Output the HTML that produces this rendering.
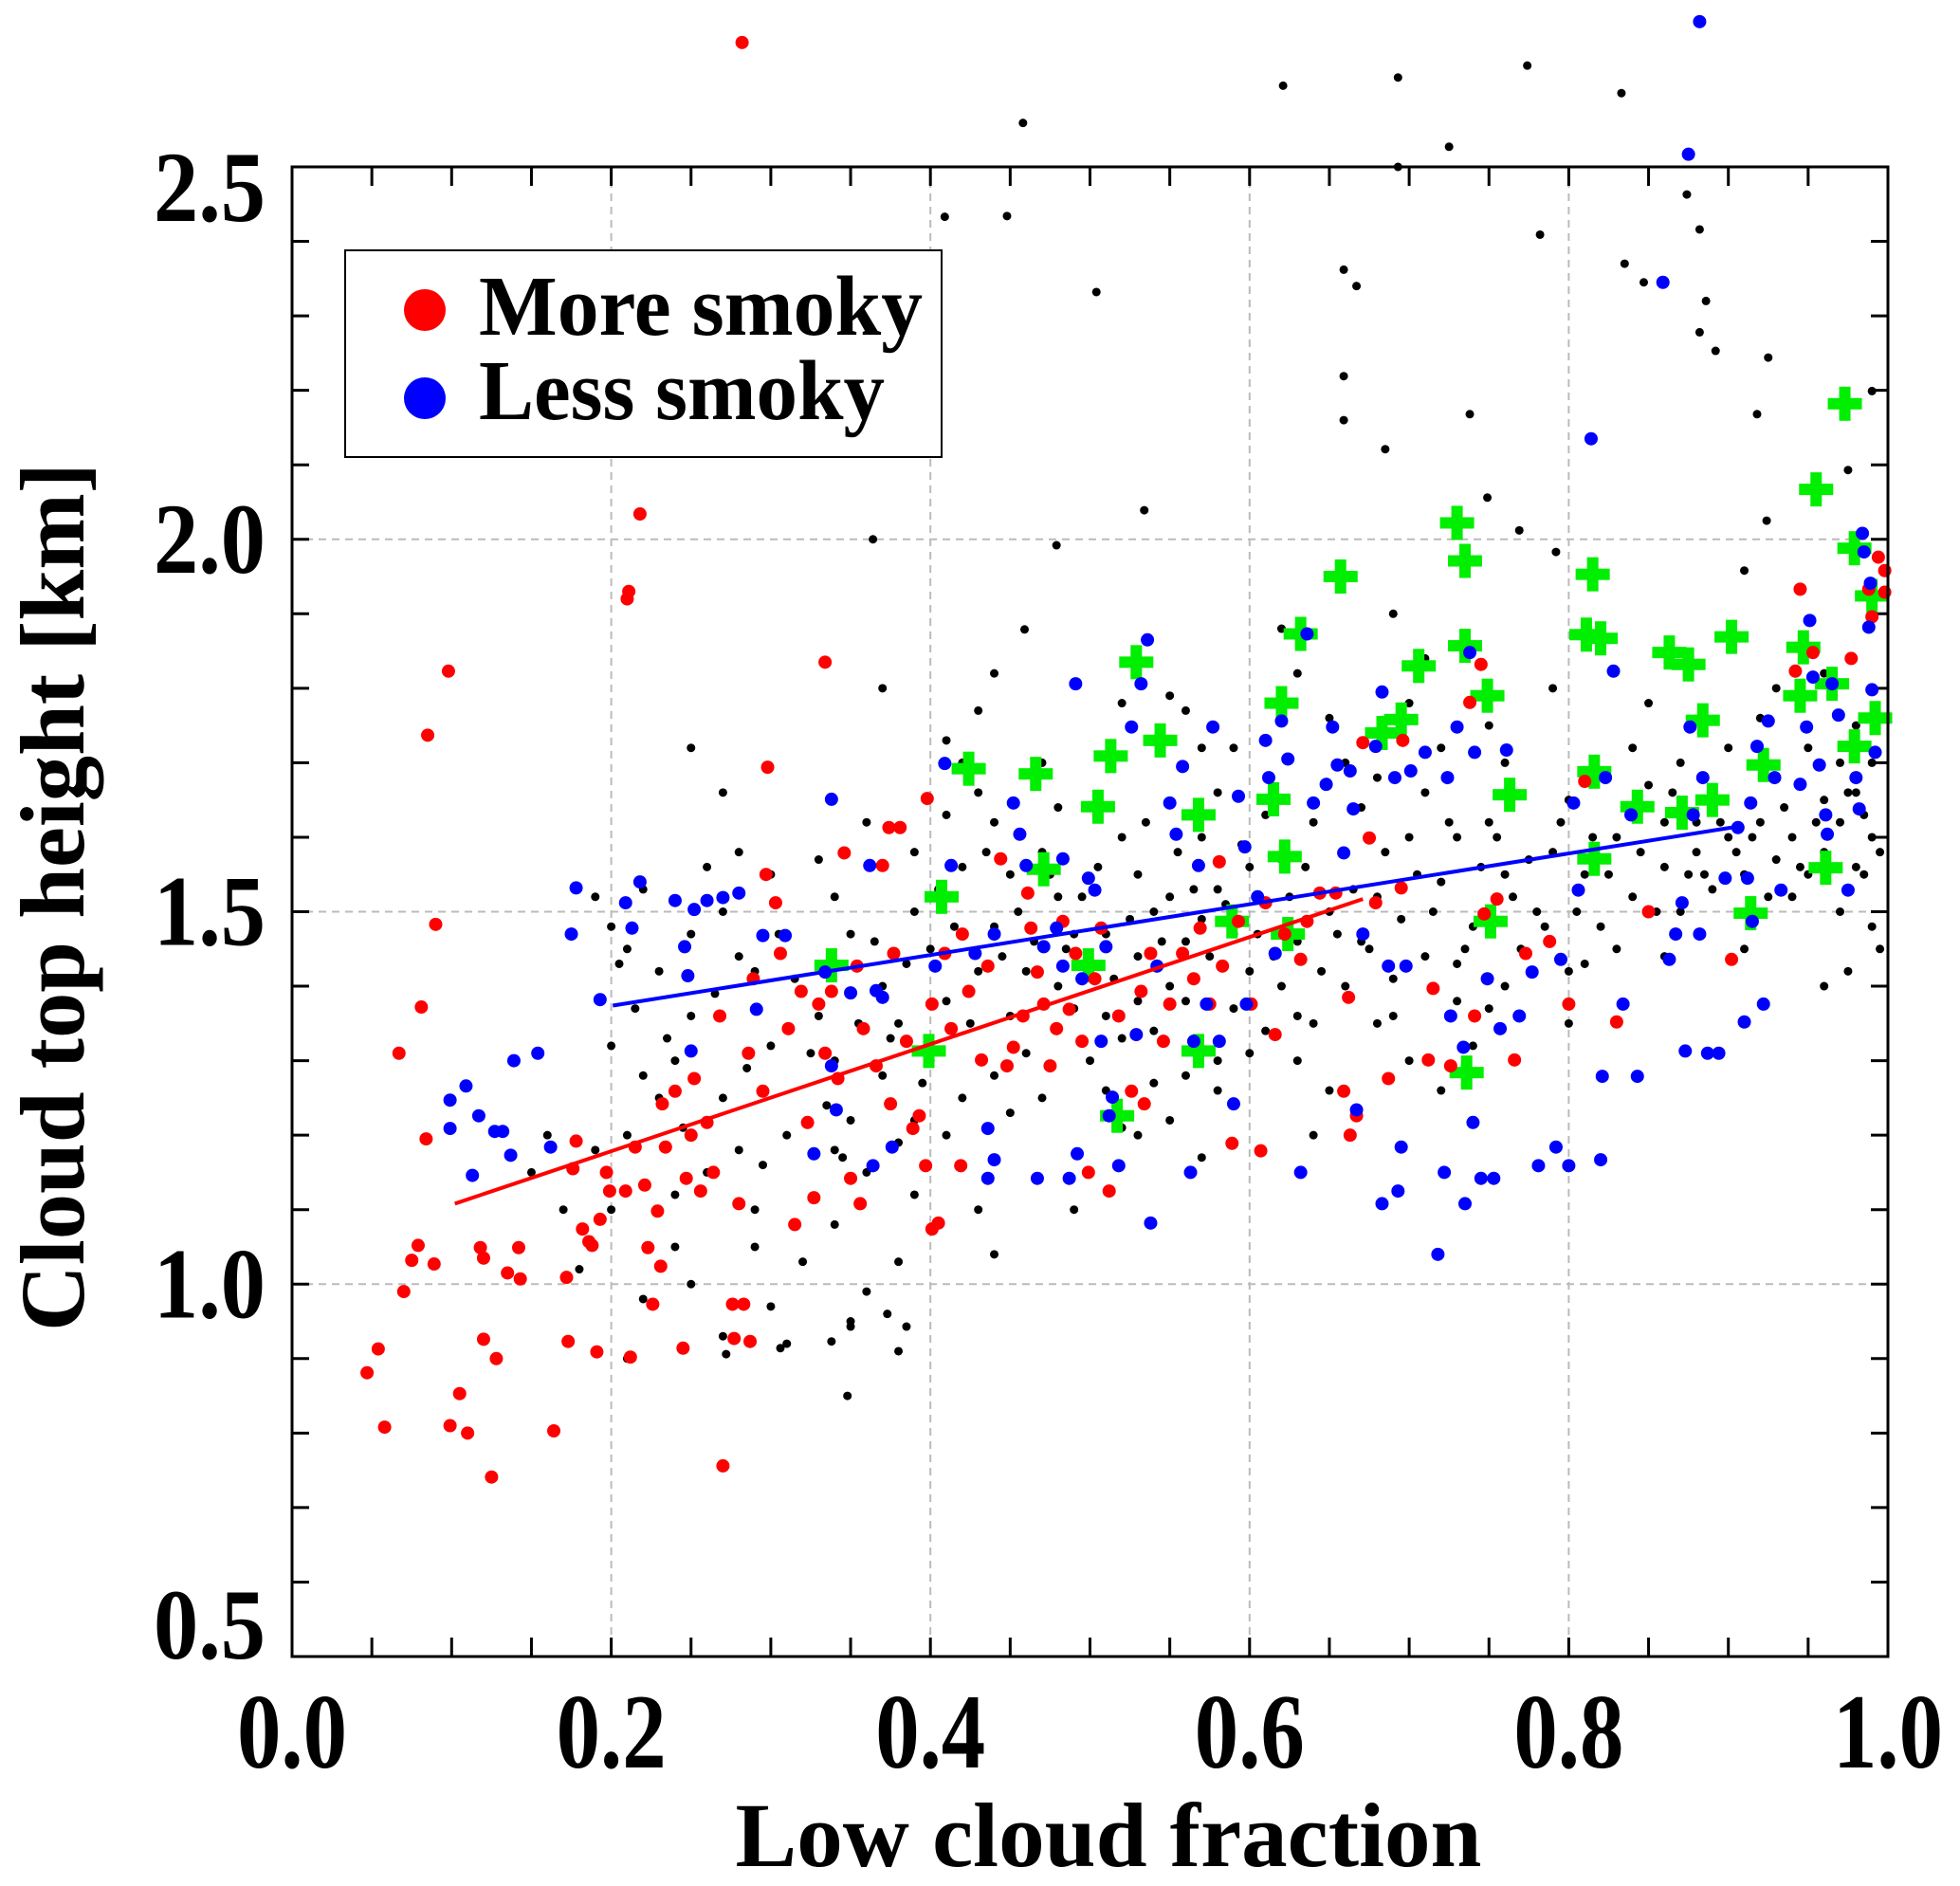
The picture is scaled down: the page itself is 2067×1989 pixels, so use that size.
<!DOCTYPE html>
<html><head><meta charset="utf-8"><style>
html,body{margin:0;padding:0;background:#fff;}
svg{display:block;}
text{font-family:"Liberation Serif",serif;font-weight:bold;fill:#000;}
</style></head><body>
<svg id="chart" width="2067" height="1989" viewBox="0 0 2067 1989" xmlns="http://www.w3.org/2000/svg"></svg>
<script>
const xTicks=[0.0,0.2,0.4,0.6,0.8,1.0];
const xTickLabels=["0.0","0.2","0.4","0.6","0.8","1.0"];
const yTicks=[0.5,1.0,1.5,2.0,2.5];
const yTickLabels=["0.5","1.0","1.5","2.0","2.5"];
const redLine=[[0.102,1.108],[0.671,1.517]];
const blueLine=[[0.201,1.374],[0.902,1.613]];
const redPts=[[0.282,2.667],[0.203,2.145],[0.218,2.034],[0.210,1.92],[0.211,1.93],[0.098,1.823],[0.085,1.737],[0.090,1.483],[0.081,1.372],[0.067,1.31],[0.084,1.195],[0.334,1.835],[0.298,1.694],[0.398,1.652],[0.047,0.881],[0.054,0.913],[0.058,0.808],[0.070,0.99],[0.075,1.032],[0.079,1.052],[0.089,1.027],[0.099,0.81],[0.105,0.853],[0.110,0.80],[0.125,0.741],[0.118,1.049],[0.120,1.035],[0.120,0.926],[0.128,0.90],[0.135,1.015],[0.142,1.049],[0.143,1.007],[0.164,0.803],[0.173,0.923],[0.172,1.009],[0.178,1.192],[0.176,1.155],[0.182,1.074],[0.186,1.057],[0.188,1.052],[0.191,0.909],[0.193,1.087],[0.197,1.15],[0.199,1.125],[0.209,1.125],[0.212,0.902],[0.215,1.184],[0.221,1.133],[0.223,1.049],[0.226,0.973],[0.231,1.024],[0.229,1.098],[0.232,1.242],[0.234,1.184],[0.240,1.259],[0.245,0.914],[0.247,1.142],[0.250,1.2],[0.252,1.276],[0.256,1.125],[0.260,1.217],[0.264,1.15],[0.268,1.36],[0.270,0.756],[0.276,0.973],[0.277,0.927],[0.280,1.108],[0.283,0.973],[0.287,0.923],[0.286,1.31],[0.289,1.41],[0.295,1.259],[0.297,1.55],[0.303,1.512],[0.306,1.444],[0.311,1.343],[0.315,1.08],[0.319,1.393],[0.323,1.217],[0.327,1.116],[0.330,1.376],[0.334,1.31],[0.338,1.393],[0.342,1.276],[0.346,1.579],[0.350,1.142],[0.354,1.427],[0.356,1.108],[0.358,1.343],[0.366,1.293],[0.370,1.562],[0.374,1.613],[0.381,1.613],[0.375,1.242],[0.377,1.444],[0.385,1.326],[0.389,1.209],[0.393,1.226],[0.397,1.159],[0.401,1.074],[0.405,1.082],[0.401,1.376],[0.409,1.444],[0.413,1.343],[0.419,1.159],[0.420,1.47],[0.424,1.393],[0.432,1.301],[0.436,1.427],[0.444,1.571],[0.448,1.293],[0.452,1.318],[0.458,1.36],[0.461,1.525],[0.463,1.478],[0.467,1.419],[0.471,1.376],[0.475,1.293],[0.479,1.343],[0.483,1.487],[0.487,1.369],[0.491,1.444],[0.495,1.326],[0.499,1.15],[0.503,1.41],[0.507,1.478],[0.512,1.125],[0.518,1.36],[0.526,1.259],[0.532,1.393],[0.534,1.242],[0.538,1.444],[0.546,1.326],[0.550,1.376],[0.558,1.444],[0.565,1.41],[0.569,1.478],[0.575,1.376],[0.581,1.567],[0.583,1.427],[0.589,1.189],[0.593,1.487],[0.601,1.376],[0.607,1.179],[0.610,1.512],[0.616,1.335],[0.622,1.47],[0.632,1.436],[0.636,1.487],[0.644,1.525],[0.654,1.525],[0.659,1.259],[0.662,1.385],[0.663,1.2],[0.667,1.226],[0.671,1.727],[0.675,1.599],[0.679,1.512],[0.687,1.276],[0.695,1.532],[0.696,1.73],[0.712,1.301],[0.715,1.397],[0.726,1.293],[0.738,1.781],[0.741,1.36],[0.745,1.832],[0.747,1.497],[0.755,1.517],[0.766,1.301],[0.773,1.444],[0.788,1.46],[0.800,1.376],[0.810,1.675],[0.830,1.352],[0.850,1.5],[0.902,1.436],[0.942,1.823],[0.945,1.933],[0.953,1.848],[0.977,1.84],[0.988,1.933],[0.990,1.896],[0.994,1.976],[0.998,1.958],[0.998,1.929]];
const bluePts=[[0.882,2.695],[0.875,2.517],[0.859,2.345],[0.814,2.135],[0.178,1.532],[0.175,1.47],[0.109,1.266],[0.099,1.247],[0.099,1.209],[0.117,1.226],[0.113,1.146],[0.127,1.205],[0.132,1.205],[0.137,1.173],[0.139,1.3],[0.154,1.31],[0.162,1.184],[0.193,1.382],[0.209,1.512],[0.213,1.478],[0.218,1.54],[0.240,1.515],[0.246,1.453],[0.248,1.414],[0.252,1.503],[0.250,1.313],[0.270,1.519],[0.260,1.515],[0.280,1.525],[0.291,1.369],[0.295,1.468],[0.309,1.468],[0.327,1.175],[0.334,1.419],[0.338,1.651],[0.338,1.293],[0.341,1.234],[0.350,1.391],[0.362,1.562],[0.366,1.394],[0.370,1.385],[0.364,1.159],[0.376,1.184],[0.403,1.427],[0.409,1.699],[0.413,1.562],[0.428,1.444],[0.436,1.209],[0.436,1.142],[0.440,1.167],[0.440,1.47],[0.452,1.646],[0.456,1.604],[0.460,1.562],[0.467,1.142],[0.471,1.453],[0.479,1.478],[0.483,1.571],[0.483,1.427],[0.487,1.142],[0.491,1.806],[0.492,1.175],[0.495,1.41],[0.499,1.545],[0.503,1.529],[0.507,1.326],[0.510,1.453],[0.512,1.226],[0.514,1.251],[0.518,1.159],[0.529,1.335],[0.532,1.806],[0.536,1.865],[0.538,1.082],[0.526,1.748],[0.542,1.427],[0.550,1.646],[0.554,1.604],[0.558,1.695],[0.563,1.15],[0.565,1.326],[0.568,1.562],[0.573,1.376],[0.577,1.748],[0.581,1.326],[0.590,1.242],[0.593,1.655],[0.597,1.587],[0.598,1.376],[0.605,1.52],[0.610,1.73],[0.612,1.68],[0.616,1.444],[0.620,1.756],[0.624,1.705],[0.632,1.15],[0.636,1.873],[0.640,1.646],[0.648,1.671],[0.652,1.748],[0.655,1.697],[0.659,1.579],[0.663,1.689],[0.665,1.638],[0.667,1.234],[0.671,1.47],[0.679,1.722],[0.683,1.795],[0.683,1.108],[0.687,1.427],[0.691,1.68],[0.693,1.125],[0.695,1.184],[0.698,1.427],[0.701,1.689],[0.710,1.714],[0.718,1.04],[0.722,1.15],[0.724,1.68],[0.726,1.36],[0.730,1.748],[0.734,1.318],[0.735,1.108],[0.738,1.848],[0.740,1.217],[0.741,1.714],[0.745,1.142],[0.749,1.41],[0.753,1.142],[0.757,1.343],[0.761,1.717],[0.769,1.36],[0.777,1.419],[0.781,1.159],[0.792,1.184],[0.795,1.436],[0.800,1.159],[0.803,1.646],[0.806,1.529],[0.820,1.167],[0.821,1.279],[0.823,1.68],[0.828,1.823],[0.834,1.376],[0.843,1.279],[0.839,1.63],[0.863,1.436],[0.867,1.47],[0.871,1.512],[0.873,1.313],[0.876,1.748],[0.878,1.63],[0.882,1.47],[0.884,1.68],[0.887,1.31],[0.894,1.31],[0.898,1.545],[0.906,1.613],[0.910,1.352],[0.912,1.545],[0.914,1.646],[0.915,1.487],[0.918,1.722],[0.922,1.376],[0.925,1.756],[0.929,1.68],[0.933,1.529],[0.945,1.671],[0.949,1.748],[0.951,1.891],[0.953,1.815],[0.957,1.697],[0.961,1.63],[0.962,1.604],[0.965,1.806],[0.969,1.764],[0.975,1.529],[0.980,1.68],[0.982,1.638],[0.984,2.008],[0.988,1.882],[0.990,1.798],[0.992,1.714],[0.985,1.983],[0.989,1.941]];
const greenPts=[[0.973,2.182],[0.955,2.067],[0.979,1.988],[0.990,1.924],[0.730,2.022],[0.735,1.971],[0.815,1.953],[0.657,1.95],[0.902,1.869],[0.811,1.872],[0.820,1.867],[0.947,1.855],[0.735,1.857],[0.632,1.873],[0.863,1.848],[0.875,1.832],[0.529,1.835],[0.706,1.83],[0.945,1.79],[0.965,1.806],[0.749,1.79],[0.620,1.78],[0.992,1.76],[0.884,1.757],[0.695,1.758],[0.683,1.74],[0.544,1.73],[0.979,1.722],[0.922,1.697],[0.513,1.709],[0.424,1.692],[0.466,1.685],[0.816,1.688],[0.763,1.657],[0.615,1.651],[0.843,1.641],[0.505,1.641],[0.871,1.633],[0.890,1.65],[0.568,1.63],[0.471,1.557],[0.961,1.559],[0.816,1.571],[0.622,1.574],[0.407,1.52],[0.914,1.498],[0.589,1.487],[0.751,1.487],[0.624,1.47],[0.338,1.428],[0.499,1.428],[0.399,1.313],[0.568,1.313],[0.736,1.284],[0.517,1.226]];
const blackPts=[[0.458,2.559],[0.621,2.609],[0.693,2.62],[0.774,2.636],[0.833,2.599],[0.725,2.527],[0.693,2.5],[0.409,2.433],[0.448,2.434],[0.504,2.332],[0.659,2.362],[0.667,2.34],[0.782,2.409],[0.835,2.37],[0.847,2.345],[0.874,2.463],[0.882,2.416],[0.886,2.32],[0.882,2.278],[0.892,2.253],[0.925,2.244],[0.918,2.168],[0.659,2.219],[0.659,2.16],[0.685,2.121],[0.738,2.168],[0.749,2.056],[0.769,2.012],[0.792,1.983],[0.924,2.025],[0.910,1.958],[0.975,2.093],[0.990,2.199],[0.364,2.0],[0.459,1.879],[0.479,1.992],[0.534,2.039],[0.348,0.85],[0.350,0.943],[0.373,0.96],[0.385,0.943],[0.306,0.914],[0.338,0.923],[0.272,0.906],
[0.19,1.52],[0.2,1.48],[0.21,1.45],[0.2,1.32],[0.22,1.28],[0.23,1.25],[0.21,1.2],[0.19,1.18],[0.2,1.1],[0.22,0.98],[0.21,0.9],[0.24,1.05],[0.25,1.0],[0.26,1.15],[0.24,1.3],[0.25,1.36],[0.26,1.56],[0.27,1.5],[0.28,1.44],[0.27,1.25],[0.28,1.18],[0.29,1.1],[0.27,0.93],[0.3,0.97],[0.31,0.92],[0.3,1.55],[0.29,1.42],[0.3,1.32],[0.31,1.2],[0.32,1.03],[0.16,1.2],[0.17,1.1],[0.18,1.02],[0.15,1.15],[0.23,1.42],[0.25,1.47],[0.22,1.53],[0.28,1.58],[0.27,1.66],[0.25,1.72],
[0.33,1.57],[0.34,1.52],[0.35,1.47],[0.33,1.36],[0.34,1.3],[0.35,1.22],[0.36,1.15],[0.34,1.08],[0.35,0.95],[0.36,0.99],[0.37,1.4],[0.38,1.35],[0.37,1.28],[0.38,1.19],[0.39,1.12],[0.38,1.03],[0.38,0.91],[0.39,1.5],[0.4,1.45],[0.41,1.38],[0.4,1.3],[0.42,1.25],[0.41,1.2],[0.43,1.1],[0.44,1.04],[0.42,1.7],[0.43,1.66],[0.41,1.73],[0.44,1.62],[0.45,1.55],[0.44,1.48],[0.43,1.42],[0.45,1.36],[0.46,1.31],[0.45,1.23],[0.37,1.8],[0.36,1.62],[0.39,1.58],[0.41,1.63],[0.43,1.77],[0.44,1.82],[0.42,1.56],
[0.47,1.7],[0.48,1.64],[0.47,1.58],[0.48,1.52],[0.49,1.47],[0.5,1.42],[0.49,1.37],[0.5,1.3],[0.51,1.26],[0.52,1.21],[0.5,1.15],[0.49,1.1],[0.52,1.6],[0.53,1.55],[0.54,1.5],[0.53,1.44],[0.55,1.4],[0.54,1.34],[0.56,1.28],[0.55,1.22],[0.57,1.17],[0.56,1.77],[0.57,1.72],[0.58,1.66],[0.57,1.6],[0.58,1.53],[0.59,1.47],[0.6,1.42],[0.59,1.37],[0.6,1.31],[0.58,1.26],[0.52,1.78],[0.55,1.79],[0.51,1.47],[0.53,1.38],[0.55,1.52],[0.56,1.46],[0.57,1.49],[0.46,1.42],[0.48,1.4],[0.52,1.33],[0.54,1.27],[0.59,1.72],[0.6,1.56],
[0.61,1.63],[0.62,1.57],[0.61,1.51],[0.63,1.46],[0.62,1.4],[0.64,1.35],[0.63,1.3],[0.65,1.26],[0.64,1.2],[0.62,1.88],[0.63,1.82],[0.65,1.76],[0.66,1.7],[0.67,1.64],[0.66,1.58],[0.68,1.52],[0.67,1.46],[0.69,1.41],[0.68,1.35],[0.7,1.3],[0.69,1.9],[0.71,1.84],[0.7,1.78],[0.72,1.72],[0.71,1.66],[0.73,1.6],[0.72,1.54],[0.74,1.48],[0.73,1.43],[0.75,1.37],[0.74,1.32],[0.72,1.26],[0.75,1.62],[0.76,1.7],[0.75,1.75],[0.76,1.55],[0.65,1.5],[0.64,1.62],[0.7,1.6],[0.68,1.68],
[0.77,1.45],[0.78,1.5],[0.79,1.58],[0.8,1.42],[0.8,1.65],[0.81,1.55],[0.82,1.48],[0.83,1.6],[0.84,1.52],[0.84,1.72],[0.85,1.67],[0.86,1.56],[0.86,1.62],[0.87,1.5],[0.87,1.7],[0.88,1.58],[0.89,1.53],[0.89,1.66],[0.9,1.6],[0.9,1.72],[0.91,1.55],[0.91,1.5],[0.92,1.62],[0.92,1.76],[0.93,1.57],[0.93,1.68],[0.94,1.52],[0.94,1.6],[0.95,1.55],[0.95,1.72],[0.96,1.58],[0.96,1.65],[0.97,1.5],[0.97,1.7],[0.97,1.62],[0.98,1.56],[0.98,1.75],[0.98,1.66],[0.99,1.6],[0.99,1.48],[0.99,1.7],[0.985,1.55],[0.975,1.42],[0.995,1.45],[0.96,1.4],[0.83,1.45],[0.8,1.35],[0.79,1.8],[0.85,1.78],[0.88,1.62],[0.93,1.8],[0.96,1.82],
[0.205,1.43],[0.215,1.37],[0.235,1.33],[0.245,1.21],[0.265,1.39],[0.285,1.29],[0.295,1.16],[0.305,1.47],[0.315,1.41],[0.325,1.31],[0.335,1.24],[0.345,1.17],[0.355,1.35],[0.365,1.46],[0.375,1.33],[0.385,1.43],[0.395,1.27],[0.405,1.53],[0.415,1.48],[0.425,1.35],[0.435,1.58],[0.445,1.44],[0.455,1.5],[0.465,1.46],[0.475,1.55],[0.485,1.45],[0.495,1.52],[0.505,1.56],[0.515,1.41],[0.525,1.49],[0.535,1.62],[0.545,1.46],[0.555,1.58],[0.565,1.53],[0.575,1.44],[0.585,1.51],[0.595,1.59],[0.605,1.47],[0.615,1.44],[0.625,1.52],[0.635,1.56],[0.645,1.42],[0.655,1.47],[0.665,1.53],[0.675,1.45],[0.685,1.58],[0.695,1.49],[0.705,1.55],[0.715,1.5],[0.725,1.62],[0.735,1.45],[0.745,1.56],[0.755,1.6],[0.765,1.52],[0.775,1.57],[0.785,1.48],[0.795,1.62],[0.805,1.5],[0.815,1.6],[0.825,1.55],[0.835,1.64],[0.845,1.58],[0.855,1.5],[0.865,1.66],[0.875,1.55],[0.885,1.55],[0.895,1.62],[0.905,1.58],[0.915,1.6],[0.925,1.52],[0.935,1.64],[0.945,1.56],[0.955,1.62],[0.965,1.56],[0.975,1.66],[0.985,1.63],[0.995,1.58],[0.47,1.25],[0.51,1.36],[0.56,1.38],[0.61,1.34],[0.66,1.4],[0.71,1.44],[0.76,1.4],[0.81,1.43],[0.86,1.44],[0.91,1.45],[0.44,1.28],[0.39,1.22],[0.34,1.18],[0.29,1.05],[0.24,1.12],[0.53,1.2],[0.58,1.3],[0.63,1.36],[0.69,1.36],[0.73,1.38]];

const L=308,R=1991,T=176,B=1747;
function X(v){return L+v*(R-L);}
function Y(v){return B-(v-0.5)*(B-T)/2.0;}
const NS="http://www.w3.org/2000/svg";
const svg=document.getElementById('chart');
function mk(tag,attrs,parent){const e=document.createElementNS(NS,tag);for(const k in attrs)e.setAttribute(k,attrs[k]);(parent||svg).appendChild(e);return e;}

const grid=mk('g',{});


for(const v of xTicks){if(v>0&&v<1){const l=mk('line',{x1:X(v),x2:X(v),y1:T,y2:B,stroke:'#bbb','stroke-width':2,'stroke-dasharray':'8,6'},grid);}}
for(const v of yTicks){if(v>0.5&&v<2.5){const l=mk('line',{x1:L,x2:R,y1:Y(v),y2:Y(v),stroke:'#bbb','stroke-width':2,'stroke-dasharray':'8,6'},grid);}}

const tk=mk('g',{stroke:'#000','stroke-width':3});


for(let i=1;i<20;i++){const v=i*0.05;mk('line',{x1:X(v),x2:X(v),y1:B,y2:B-20},tk);mk('line',{x1:X(v),x2:X(v),y1:T,y2:T+20},tk);}
for(let i=1;i<20;i++){const v=0.5+i*0.1;mk('line',{x1:L,x2:L+18,y1:Y(v),y2:Y(v)},tk);mk('line',{x1:R,x2:R-18,y1:Y(v),y2:Y(v)},tk);}

const gb=mk('g',{fill:'#000'});


for(const p of blackPts){const c=mk('circle',{cx:X(p[0]),cy:Y(p[1]),r:4.5},gb);}

const gg=mk('g',{fill:'#00ee00'});


for(const p of greenPts){const cx=X(p[0]),cy=Y(p[1]);const g=mk('g',{},gg);mk('rect',{x:cx-18,y:cy-6,width:36,height:12},g);mk('rect',{x:cx-6,y:cy-18,width:12,height:36},g);}

const gr=mk('g',{fill:'#ff0000'});


for(const p of redPts){const c=mk('circle',{cx:X(p[0]),cy:Y(p[1]),r:7},gr);}

const gbl=mk('g',{fill:'#0000ff'});


for(const p of bluePts){const c=mk('circle',{cx:X(p[0]),cy:Y(p[1]),r:7},gbl);}

const rl=mk('line',{x1:X(redLine[0][0]),y1:Y(redLine[0][1]),x2:X(redLine[1][0]),y2:Y(redLine[1][1]),stroke:'#ff0000','stroke-width':4});


const bl=mk('line',{x1:X(blueLine[0][0]),y1:Y(blueLine[0][1]),x2:X(blueLine[1][0]),y2:Y(blueLine[1][1]),stroke:'#0000ff','stroke-width':4});



const fr=mk('rect',{x:L,y:T,width:R-L,height:B-T,fill:'none',stroke:'#000','stroke-width':3});



for(let i=0;i<xTicks.length;i++){const t=mk('text',{x:X(xTicks[i]),y:1864,'text-anchor':'middle','font-size':112,textLength:116,lengthAdjust:'spacingAndGlyphs'});t.textContent=xTickLabels[i];}
const yBase={"0.5":1749,"2.5":233};
for(let i=0;i<yTicks.length;i++){const k=yTickLabels[i];const by=(k in yBase)?yBase[k]:Y(yTicks[i])+35;const t=mk('text',{x:280,y:by,'text-anchor':'end','font-size':106,textLength:118,lengthAdjust:'spacingAndGlyphs'});t.textContent=k;}

const xt=mk('text',{x:1169,y:1968,'text-anchor':'middle','font-size':96,textLength:787,lengthAdjust:'spacingAndGlyphs'});
xt.textContent='Low cloud fraction';


const yt=mk('text',{x:0,y:0,'text-anchor':'middle','font-size':96,textLength:916,lengthAdjust:'spacingAndGlyphs',transform:'translate(88,946) rotate(-90)'});
yt.textContent='Cloud top height [km]';



const lg=mk('g',{});


mk('rect',{x:364,y:264,width:629,height:218,fill:'#fff',stroke:'#000','stroke-width':2},lg);
const e1=mk('g',{},lg);


mk('circle',{cx:448,cy:327,r:22,fill:'#ff0000'},e1);
const t1=mk('text',{x:505,y:353,'font-size':90,textLength:468,lengthAdjust:'spacingAndGlyphs'},e1);t1.textContent='More smoky';
const e2=mk('g',{},lg);


mk('circle',{cx:448,cy:420,r:22,fill:'#0000ff'},e2);
const t2=mk('text',{x:505,y:442,'font-size':90,textLength:428,lengthAdjust:'spacingAndGlyphs'},e2);t2.textContent='Less smoky';
</script>
</body></html>
